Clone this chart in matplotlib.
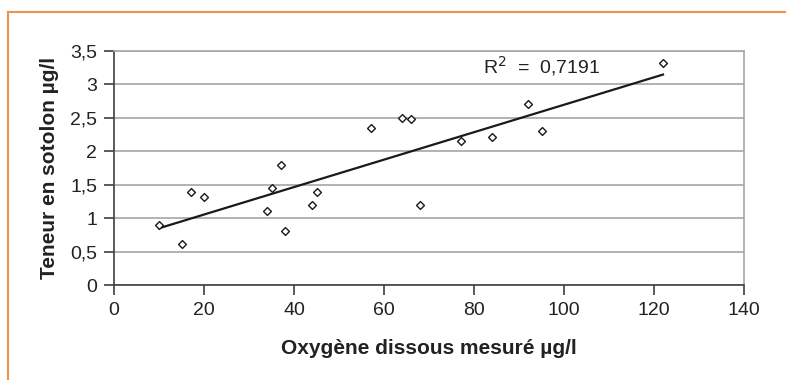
import matplotlib
matplotlib.use("Agg")
import matplotlib.pyplot as plt
import numpy as np
from matplotlib.lines import Line2D

plt.rcParams['font.family'] = ['Liberation Sans', 'DejaVu Sans']

oxygen = [10, 15, 17, 20, 34, 35, 37, 38, 44, 45, 57, 64, 66, 68, 77, 84, 92, 95, 122]
sotolon = [0.90, 0.61, 1.39, 1.31, 1.10, 1.45, 1.80, 0.81, 1.19, 1.39, 2.35, 2.50, 2.48, 1.19, 2.15, 2.21, 2.70, 2.31, 3.32]
x_ticks = [0, 20, 40, 60, 80, 100, 120, 140]
y_ticks = [0, 0.5, 1, 1.5, 2, 2.5, 3, 3.5]
y_tick_labels = ["0", "0,5", "1", "1,5", "2", "2,5", "3", "3,5"]
r2_text = "R$^2$  =  0,7191"
x_label = "Oxygène dissous mesuré µg/l"
y_label = "Teneur en sotolon µg/l"

fig = plt.figure(figsize=(7.86, 3.80), dpi=100)
ax = fig.add_axes([114/786, 1-285/380, (744-114)/786, (285-51)/380])

ax.scatter(oxygen, sotolon, marker='D', s=16, facecolors='white', edgecolors='#1a1a1a', linewidths=1.0, zorder=3)
coef = np.polyfit(oxygen, sotolon, 1)
xs = np.array([min(oxygen), max(oxygen)])
ax.plot(xs, np.polyval(coef, xs), color='#1a1a1a', lw=1.6, zorder=2)

ax.set_xlim(0, 140)
ax.set_ylim(0, 3.5)
ax.set_xticks(x_ticks)
ax.set_yticks(y_ticks)
ax.set_yticklabels(y_tick_labels)
ax.grid(axis='y', color='#a6a6a6', lw=1.2)
ax.set_axisbelow(True)
for s in ['top', 'right']:
    ax.spines[s].set_color('#a6a6a6')
    ax.spines[s].set_linewidth(1.2)
for s in ['left', 'bottom']:
    ax.spines[s].set_color('#404040')
    ax.spines[s].set_linewidth(1.2)
ax.tick_params(axis='both', direction='out', length=7, width=1.2, color='#404040', labelsize=14, labelcolor='#222222')
ax.tick_params(axis='x', pad=5)
ax.tick_params(axis='y', pad=5)

ax.text(95.1, 3.27, r2_text, fontsize=14, color='#222222', ha='center', va='center')
ax.set_xlabel(x_label, fontsize=15, fontweight='bold', color='#222222', labelpad=15)
ax.set_ylabel(y_label, fontsize=15, fontweight='bold', color='#222222', labelpad=8)

# orange frame
fig.add_artist(Line2D([7.5/786, 1], [1-12/380, 1-12/380], transform=fig.transFigure, color='#f0904a', lw=1.5))
fig.add_artist(Line2D([7.5/786, 7.5/786], [0, 1-12/380], transform=fig.transFigure, color='#f0904a', lw=1.5))

fig.savefig("out.png", dpi=100)
